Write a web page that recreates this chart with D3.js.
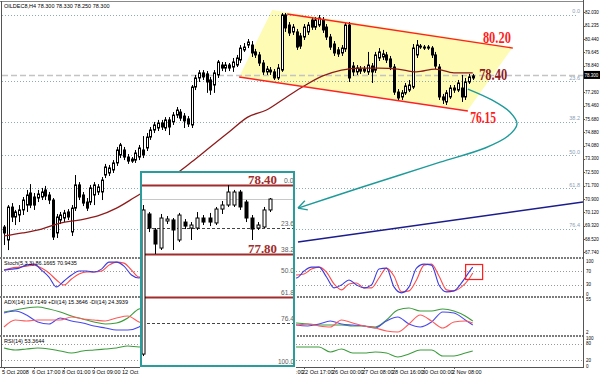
<!DOCTYPE html>
<html lang="en">
<head>
<meta charset="UTF-8">
<title>Oil H4 - channel, fibo and inset</title>
<script src="https://cdnjs.cloudflare.com/ajax/libs/d3/7.8.5/d3.min.js"></script>
<style>
  body { margin: 0; background: #fff; }
  svg { display: block; }
  .tiny { font-family: "Liberation Sans", Arial, sans-serif; font-size: 5.5px; fill: #000; }
  .axl { font-family: "Liberation Sans", Arial, sans-serif; font-size: 4.5px; fill: #000; }
  .big { font-family: "Liberation Serif", "Times New Roman", serif; font-weight: bold; }
</style>
</head>
<body>
<script>
// ---------- data ----------
var titleText = "OILDEC8,H4  78.300 78.330 78.250 78.300";

// H4 candles, one entry per bar
var open = [69.24,68.47,70.43,69.84,69.96,70.26,70.55,71.27,71.03,70.97,
  71.03,71.45,71.15,70.85,68.89,69.66,69.78,70.14,68.95,70.37,
  71.75,71.15,70.73,70.73,71.15,71.33,71.33,72.34,72.46,72.64,
  73.06,73.53,73.83,73.41,73.17,73.23,73.41,73.83,73.95,74.60,
  75.02,75.14,75.44,75.14,75.62,75.50,75.91,76.09,75.85,75.68,
  75.32,77.58,78.12,78.42,78.36,78.00,77.70,78.30,78.89,78.71,
  78.89,78.77,78.89,79.19,79.79,80.08,80.08,79.67,79.49,79.01,
  78.48,78.59,78.48,78.12,78.59,81.87,81.27,80.86,80.86,80.62,
  80.56,80.86,81.57,81.15,81.27,81.57,81.15,80.56,80.14,79.79,
  79.61,79.85,81.27,78.83,78.48,78.65,78.53,78.48,78.83,78.59,
  79.31,79.37,79.49,79.25,78.77,77.28,76.99,77.23,77.40,77.58,
  79.49,79.96,79.96,79.90,79.90,79.49,78.77,76.99,76.69,76.99,
  77.40,77.40,77.52,76.99,77.88,78.12];
var high = [69.36,70.55,70.67,70.26,70.55,71.03,71.45,71.80,71.27,71.45,
  71.57,71.69,71.33,70.97,70.02,70.14,70.26,70.31,70.55,72.34,
  71.92,71.33,70.97,71.75,71.92,71.80,72.22,73.00,72.94,73.23,
  74.01,74.25,74.01,73.59,73.41,73.83,74.13,74.66,74.84,75.20,
  75.50,75.62,75.62,75.79,75.79,76.09,76.39,76.27,76.03,75.85,
  77.70,78.30,78.59,78.59,78.53,78.18,78.59,79.19,79.07,79.07,
  79.01,79.31,79.49,80.08,80.20,80.44,80.32,79.85,79.67,79.19,
  78.83,78.77,78.65,78.95,81.99,81.99,81.45,81.33,81.04,80.80,
  81.33,81.45,81.75,81.75,81.87,81.75,81.33,80.74,80.32,79.96,
  80.08,81.39,81.45,79.07,78.89,78.83,78.83,79.67,79.01,79.67,
  79.90,79.79,79.67,79.43,78.95,77.46,77.40,77.82,78.00,80.14,
  80.38,80.14,80.08,80.08,80.02,79.67,78.95,77.17,77.40,77.70,
  77.70,78.00,78.30,78.12,78.36,78.36];
var low = [68.17,67.87,69.54,69.36,69.54,69.96,70.14,70.37,70.26,70.73,
  70.85,70.85,70.61,68.47,68.59,69.42,69.54,69.66,68.71,70.20,
  70.85,70.49,70.20,70.55,70.55,71.15,70.85,72.16,72.28,72.46,
  72.88,73.35,73.23,73.00,73.06,73.06,73.23,73.35,73.77,74.43,
  74.84,74.96,75.02,74.96,74.72,75.32,75.73,75.56,75.14,75.20,
  75.14,77.40,77.88,78.00,77.23,77.11,77.23,78.12,78.53,78.48,
  78.53,78.48,78.77,79.01,79.67,79.90,79.37,79.31,78.83,78.30,
  78.30,78.30,78.00,78.00,78.48,80.86,80.62,80.68,79.79,79.85,
  80.38,80.68,80.98,80.98,81.15,80.80,80.38,79.79,79.43,79.37,
  79.43,79.67,77.88,78.24,78.30,78.36,78.42,78.30,77.82,78.42,
  79.13,79.19,79.01,78.59,77.11,76.75,76.81,77.11,77.28,77.46,
  79.31,79.85,79.79,79.79,79.31,78.65,76.81,76.57,76.51,76.87,
  77.23,77.28,76.69,76.81,77.76,78.00];
var close = [68.89,70.43,69.84,70.14,70.26,70.85,71.15,70.55,70.55,71.21,
  71.33,71.09,70.85,68.65,69.84,69.96,70.08,69.84,70.37,71.75,
  71.03,70.67,70.37,71.57,71.75,71.63,72.04,72.82,72.76,73.06,
  73.83,74.13,73.41,73.17,73.29,73.65,73.95,73.53,74.60,75.02,
  75.32,75.44,75.20,75.62,75.20,75.91,76.21,75.73,75.56,75.38,
  77.58,78.12,78.42,78.18,77.88,77.40,78.42,79.07,78.71,78.89,
  78.71,79.07,79.31,79.90,79.96,80.26,79.61,79.49,79.01,78.48,
  78.65,78.48,78.12,78.71,81.87,81.10,80.80,81.15,79.96,80.02,
  81.15,81.27,81.15,81.57,81.69,80.98,80.56,79.96,79.61,79.55,
  79.90,81.27,78.12,78.48,78.71,78.53,78.65,78.89,78.48,79.49,
  79.67,79.55,79.19,78.77,77.28,76.93,77.23,77.64,77.70,79.90,
  80.08,80.02,79.90,79.96,79.49,78.83,76.99,76.81,77.23,77.52,
  77.52,77.82,76.99,77.88,78.18,78.24];

// moving average (dark red), sampled every 5 bars
var maBar = [0,5,10,15,20,25,30,35,40,45,50,55,60,65,70,75,80,85,90,95,100,105,110,115,120,125];
var maVal = [68.71,68.89,69.12,69.48,69.66,69.90,70.37,71.03,71.69,72.28,73.11,74.01,74.90,75.79,76.21,76.93,77.64,78.24,78.59,78.71,78.71,78.65,78.48,78.65,78.42,78.42];

// price axis labels
var priceTicks = [82.030,81.235,80.440,79.645,78.840,77.260,76.460,75.680,74.880,74.080,73.300,72.500,71.700,70.900,70.120,69.320,68.520,67.740];
var bidPrice = 78.300;

// x axis labels, one every 8 bars
var timeLabels = ["5 Oct 2008","6 Oct 17:00","8 Oct 01:00","9 Oct 09:00","12 Oct 17:00","14 Oct 01:00","15 Oct 09:00","16 Oct 17:00",
  "20 Oct 01:00","21 Oct 09:00","22 Oct 17:00","26 Oct 00:00","27 Oct 08:00","28 Oct 16:00","30 Oct 00:00","2 Nov 08:00"];

// fibonacci on the main chart
var fibLevels = [0, 23.6, 38.2, 50, 61.8, 76.4];
var fibNames = ["0.0","23.6","38.2","50.0","61.8","76.4"];
var fibHigh = 81.87, fibLow = 65.19;

// channel (bar index, price)
var chanUpper = [[75.5, 81.93], [135.7, 79.90]];
var chanLower = [[62.7, 78.18], [123.7, 76.15]];
var chanFill = [[62.7, 78.18], [71.5, 82.17], [135.7, 79.96], [123.7, 76.21]];
var blueTrend = [[78.4, 68.35], [154.4, 70.73]];
var arrowPath = [[123.7,77.46],[130.1,76.81],[134.9,76.09],[136.8,75.38],[134.4,74.66],[128.3,73.95],[116.3,73.11],[105.6,72.34],[92.3,71.39],[78.4,70.37]];

// stochastic, every 2 bars
var stochBar = d3.range(0, 125, 2).concat([125]);
var stochMain = [74,77,80,89,92,74,53,23,41,59,71,71,68,77,98,98,86,59,50,
  74,92,89,92,95,59,80,95,50,59,86,86,92,95,68,29,20,20,74,59,
  50,71,83,83,53,20,29,44,29,20,29,77,80,23,5,23,80,92,89,29,8,11,35,68,83];
var stochSignal = [74,80,83,86,89,80,65,44,29,47,62,68,68,71,89,98,95,74,53,
  62,80,89,89,92,77,71,86,68,53,74,86,89,92,80,50,26,20,44,65,
  59,62,77,83,68,32,14,32,35,20,20,50,80,56,8,11,44,89,92,56,14,11,23,47,65];

// ADX and RSI, every 3 bars
var oscBar = d3.range(0, 124, 3).concat([125]);
var adx = [35.2,38.4,41.6,43.2,40,35.2,28.8,24,19.2,16,17.6,25.6,40,
  43.2,48,51.2,49.6,51.2,46.4,43.2,40,38.4,35.2,28.8,22.4,19.2,
  17.6,16,14.4,14.4,14.4,12.8,12.8,11.2,22.4,38.4,41.6,36.8,36.8,40,36.8,28.8,20.8];
var plusDI = [33.6,36.8,30.4,19.2,16,25.6,20.8,17.6,12.8,9.6,6.4,6.4,11.2,
  25.6,30.4,33.6,28.8,35.2,25.6,32,28.8,33.6,25.6,19.2,17.6,28.8,
  14.4,12.8,16,20.8,16,14.4,12.8,9.6,20.8,27.2,16,11.2,19.2,35.2,33.6,22.4,14.4];
var minusDI = [11.2,22.4,20.8,22.4,22.4,22.4,27.2,24,22.4,20.8,25.6,28.8,19.2,
  14.4,12.8,11.2,16,12.8,19.2,16,12.8,11.2,19.2,25.6,22.4,14.4,
  14.4,16,12.8,11.2,22.4,17.6,12.8,9.6,4.8,3.2,16,30.4,20.8,9.6,19.2,20.8,17.6];
var rsi = [64.3,57.1,60.7,64.3,60.7,53.6,46.4,53.6,57.1,60.7,64.3,71.4,67.9,
  75,78.6,78.6,71.4,80,71.4,75,75,78.6,71.4,64.3,60.7,78.6,
  67.9,67.9,67.9,50,60.7,46.4,46.4,50,46.4,32.1,42.9,57.1,57.1,35.7,35.7,46.4,53.4];

// inset: zoomed candles with their own fibonacci
var inOpen  = [76.930,78.148,78.009,77.852,78.087,78.096,77.922,78.078,78.026,78.026,78.113,78.113,78.070,78.191,78.226,78.226,78.339,78.252,78.113,78.026,78.035,78.183];
var inHigh  = [78.226,78.165,78.026,78.148,78.130,78.113,78.157,78.104,78.078,78.165,78.139,78.157,78.209,78.261,78.400,78.357,78.357,78.270,78.139,78.078,78.209,78.287];
var inLow   = [76.913,77.991,77.800,77.835,78.061,77.835,77.904,78.017,77.922,78.009,78.052,78.043,78.052,78.148,78.209,78.209,78.183,78.078,77.922,78.009,78.026,78.165];
var inClose = [78.183,78.026,77.887,78.113,78.104,78.009,78.139,78.043,78.052,78.113,78.078,78.078,78.191,78.226,78.339,78.339,78.209,78.113,78.017,78.052,78.183,78.278];
var inFibHigh = 78.40, inFibLow = 76.83, inBid = 78.278;
var inFibLevels = [0, 23.6, 38.2, 50, 61.8, 76.4, 100];
var inFibNames = ["0.0","23.6","38.2","50.0","61.8","76.4","100.0"];

// ---------- drawing ----------
var W = 600, H = 376, axisX = 583;
var svg = d3.select("body").append("svg").attr("width", W).attr("height", H);
svg.append("rect").attr("width", W).attr("height", H).attr("fill", "#fff");

var defs = svg.append("defs");
function clip(id, x0, y0, w, h) {
  defs.append("clipPath").attr("id", id).append("rect").attr("x", x0).attr("y", y0).attr("width", w).attr("height", h);
}
clip("cMain", 2, 2, axisX - 2, 255);
clip("cSto", 2, 259, axisX - 2, 37);
clip("cAdx", 2, 298, axisX - 2, 37);
clip("cRsi", 2, 337, axisX - 2, 30);
clip("cInset", 142, 173, 152, 193);

var x = d3.scaleLinear().domain([0, 125]).range([4, 472.75]);
var y = d3.scaleLinear().domain([67.72, 82.03]).range([252.6, 12.3]);
var ySto = d3.scaleLinear().domain([0, 100]).range([294.5, 261.5]);
var yAdx = d3.scaleLinear().domain([0, 56]).range([334, 299]);
var yRsi = d3.scaleLinear().domain([0, 100]).range([366, 338]);

var main = svg.append("g").attr("clip-path", "url(#cMain)");

// channel fill
main.append("path").datum(chanFill)
  .attr("d", d3.line().x(function(d) { return x(d[0]); }).y(function(d) { return y(d[1]); }))
  .attr("fill", "#fdfbb4");

// fibonacci levels
var fibPrice = function(l) { return fibHigh - (fibHigh - fibLow) * l / 100; };
main.selectAll(".fib").data(fibLevels).join("line")
  .attr("x1", 2).attr("x2", 576)
  .attr("y1", function(d) { return Math.round(y(fibPrice(d))) + 0.5; })
  .attr("y2", function(d) { return Math.round(y(fibPrice(d))) + 0.5; })
  .attr("stroke", "#8eaab8").attr("stroke-dasharray", "1,2");
svg.selectAll(".fibt").data(fibLevels).join("text").attr("class", "tiny")
  .attr("x", 580).attr("y", function(d) { return y(fibPrice(d)) - 1.5; })
  .attr("text-anchor", "end").style("fill", "#8aa0b4")
  .text(function(d, i) { return fibNames[i]; });

// bid line
main.append("line").attr("x1", 2).attr("x2", axisX)
  .attr("y1", Math.round(y(bidPrice)) + 0.5).attr("y2", Math.round(y(bidPrice)) + 0.5)
  .attr("stroke", "#c4c4c4").attr("stroke-width", 1.5).attr("stroke-dasharray", "6,3");

// candles
function candles(g, n, xs, ys, o, h, l, c, half) {
  var idx = d3.range(n);
  g.selectAll(".wick").data(idx).join("line")
    .attr("x1", function(i) { return Math.round(xs(i)) + 0.5; })
    .attr("x2", function(i) { return Math.round(xs(i)) + 0.5; })
    .attr("y1", function(i) { return ys(h[i]); })
    .attr("y2", function(i) { return ys(l[i]); })
    .attr("stroke", "#000");
  g.selectAll(".body").data(idx).join("rect")
    .attr("x", function(i) { return Math.round(xs(i)) - half + 0.5; })
    .attr("width", half * 2)
    .attr("y", function(i) { return Math.min(ys(o[i]), ys(c[i])); })
    .attr("height", function(i) { return Math.max(0.6, Math.abs(ys(o[i]) - ys(c[i]))); })
    .attr("fill", function(i) { return c[i] >= o[i] ? "#fff" : "#000"; })
    .attr("stroke", "#000");
}
candles(main.append("g"), close.length, x, y, open, high, low, close, 1);

// moving average
main.append("path").datum(maBar.map(function(b, k) { return [b, maVal[k]]; }))
  .attr("d", d3.line().x(function(d) { return x(d[0]); }).y(function(d) { return y(d[1]); }).curve(d3.curveMonotoneX))
  .attr("fill", "none").attr("stroke", "#8e1b1b").attr("stroke-width", 1.3);

// channel lines
[chanUpper, chanLower].forEach(function(seg) {
  main.append("line")
    .attr("x1", x(seg[0][0])).attr("y1", y(seg[0][1]))
    .attr("x2", x(seg[1][0])).attr("y2", y(seg[1][1]))
    .attr("stroke", "#ff2020").attr("stroke-width", 1.4);
});

// blue trend line
main.append("line")
  .attr("x1", x(blueTrend[0][0])).attr("y1", y(blueTrend[0][1]))
  .attr("x2", x(blueTrend[1][0])).attr("y2", y(blueTrend[1][1]))
  .attr("stroke", "#1c1c8e").attr("stroke-width", 1.5);

// level labels
function bigLabel(txt, bx, by, color, size, len) {
  svg.append("text").attr("class", "big").attr("x", bx).attr("y", by)
    .attr("font-size", size).attr("fill", color)
    .attr("textLength", len).attr("lengthAdjust", "spacingAndGlyphs").text(txt);
}
bigLabel("80.20", x(127.7), y(80.20), "#ff1c1c", 16, 28);
bigLabel("78.40", x(126.7), y(78.40) + 7, "#8e1b1b", 16, 28);
bigLabel("76.15", x(124.3), y(76.15) + 12, "#ff1c1c", 16, 26);

// sub windows
function oscLine(g, bars, vals, ys, color) {
  g.append("path").datum(bars.map(function(b, k) { return [b, vals[k]]; }))
    .attr("d", d3.line().x(function(d) { return x(d[0]); }).y(function(d) { return ys(d[1]); }).curve(d3.curveMonotoneX))
    .attr("fill", "none").attr("stroke", color).attr("stroke-width", 1.1);
}
var sto = svg.append("g").attr("clip-path", "url(#cSto)");
[70, 30].forEach(function(v) {
  sto.append("line").attr("x1", 2).attr("x2", axisX)
    .attr("y1", Math.round(ySto(v)) + 0.5).attr("y2", Math.round(ySto(v)) + 0.5)
    .attr("stroke", "#999").attr("stroke-dasharray", "1,2");
});
oscLine(sto, stochBar, stochSignal, ySto, "#ff4a4a");
oscLine(sto, stochBar, stochMain, ySto, "#3a3ae0");
svg.append("rect").attr("x", x(123.1)).attr("y", 264.5).attr("width", 17).attr("height", 15)
  .attr("fill", "none").attr("stroke", "#ff1c1c").attr("stroke-width", 1.2);

var adxG = svg.append("g").attr("clip-path", "url(#cAdx)");
oscLine(adxG, oscBar, adx, yAdx, "#3c9c3c");
oscLine(adxG, oscBar, plusDI, yAdx, "#4848f0");
oscLine(adxG, oscBar, minusDI, yAdx, "#ff5a5a");

var rsiG = svg.append("g").attr("clip-path", "url(#cRsi)");
[80, 20].forEach(function(v) {
  rsiG.append("line").attr("x1", 2).attr("x2", axisX)
    .attr("y1", Math.round(yRsi(v)) + 0.5).attr("y2", Math.round(yRsi(v)) + 0.5)
    .attr("stroke", "#999").attr("stroke-dasharray", "1,2");
});
oscLine(rsiG, oscBar, rsi, yRsi, "#3c9c3c");

// panel texts
svg.append("text").attr("class", "tiny").attr("x", 4).attr("y", 8).text(titleText);
svg.append("text").attr("class", "tiny").attr("x", 4).attr("y", 265).text("Stoch(5,3,3) 86.1665 70.9435");
svg.append("text").attr("class", "tiny").attr("x", 4).attr("y", 304).text("ADX(14) 19.7149 +DI(14) 15.3646 -DI(14) 24.3939");
svg.append("text").attr("class", "tiny").attr("x", 4).attr("y", 343).text("RSI(14) 53.3644");

// frames and separators
svg.append("line").attr("x1", 0).attr("x2", axisX).attr("y1", 1.5).attr("y2", 1.5).attr("stroke", "#8a8a8a");
svg.append("line").attr("x1", 1.5).attr("x2", 1.5).attr("y1", 1).attr("y2", 367).attr("stroke", "#555");
[258, 297, 336].forEach(function(sy) {
  svg.append("line").attr("x1", 0).attr("x2", axisX).attr("y1", sy).attr("y2", sy)
    .attr("stroke", "#7c7c7c").attr("stroke-width", 2).attr("stroke-dasharray", "2,1");
});
svg.append("line").attr("x1", 0).attr("x2", axisX).attr("y1", 367.5).attr("y2", 367.5).attr("stroke", "#555");
svg.append("line").attr("x1", axisX + 0.5).attr("x2", axisX + 0.5).attr("y1", 0).attr("y2", 368).attr("stroke", "#555");

// price axis
svg.selectAll(".pt").data(priceTicks).join("text").attr("class", "axl")
  .attr("x", axisX + 2).attr("y", function(d) { return y(d) + 1.6; })
  .text(function(d) { return d.toFixed(3); });
svg.selectAll(".ptk").data(priceTicks).join("line")
  .attr("x1", axisX).attr("x2", axisX + 2)
  .attr("y1", function(d) { return Math.round(y(d)) + 0.5; })
  .attr("y2", function(d) { return Math.round(y(d)) + 0.5; })
  .attr("stroke", "#555");
svg.append("rect").attr("x", axisX + 1).attr("y", y(bidPrice) - 4).attr("width", 16).attr("height", 8).attr("fill", "#000");
svg.append("text").attr("class", "axl").attr("x", axisX + 1.5).attr("y", y(bidPrice) + 1.6)
  .style("fill", "#fff").text(bidPrice.toFixed(3));

// oscillator axis labels
function sideLabels(vals, ys, names) {
  vals.forEach(function(v, k) {
    svg.append("text").attr("class", "axl").attr("x", axisX + 3).attr("y", ys(v) + 1.6).text(names[k]);
  });
}
sideLabels([100, 70, 30, 0], ySto, ["100", "70", "30", "0"]);
sideLabels([55, 2], yAdx, ["55", "2"]);
sideLabels([100, 80, 20, 0], yRsi, ["100", "80", "20", "0"]);

// time axis
svg.selectAll(".tl").data(timeLabels).join("text").attr("class", "tiny")
  .attr("x", function(d, k) { return x(k * 8) - 2; }).attr("y", 374)
  .text(function(d) { return d; });
svg.selectAll(".tk").data(timeLabels).join("line")
  .attr("x1", function(d, k) { return Math.round(x(k * 8)) + 0.5; })
  .attr("x2", function(d, k) { return Math.round(x(k * 8)) + 0.5; })
  .attr("y1", 367).attr("y2", 369).attr("stroke", "#555");

// ---------- inset ----------
var ix = d3.scaleLinear().domain([0, 21]).range([143, 270]);
var iy = d3.scaleLinear().domain([inFibLow, inFibHigh]).range([365.6, 185]);
var inset = svg.append("g");
inset.append("rect").attr("x", 140).attr("y", 171).attr("width", 156).attr("height", 205).attr("fill", "#fff");
var ic = inset.append("g").attr("clip-path", "url(#cInset)");
ic.append("line").attr("x1", 142).attr("x2", 294).attr("y1", Math.round(iy(inBid)) + 0.5).attr("y2", Math.round(iy(inBid)) + 0.5)
  .attr("stroke", "#c8c8c8");
var inFibPrice = function(l) { return inFibHigh - (inFibHigh - inFibLow) * l / 100; };
inFibLevels.forEach(function(l) {
  var ly = Math.round(iy(inFibPrice(l))) + 0.5;
  if (l === 0 || l === 38.2 || l === 61.8) {
    ic.append("line").attr("x1", 142).attr("x2", 294).attr("y1", ly).attr("y2", ly)
      .attr("stroke", "#a02c2c").attr("stroke-width", 2);
  } else if (l === 23.6 || l === 76.4) {
    ic.append("line").attr("x1", 142).attr("x2", 294).attr("y1", ly).attr("y2", ly)
      .attr("stroke", "#444").attr("stroke-dasharray", "3,2");
  }
});
candles(ic.append("g"), inClose.length, ix, iy, inOpen, inHigh, inLow, inClose, 1.5);
ic.selectAll(".ifl").data(inFibLevels).join("text")
  .attr("x", function(d) { return d === 100 ? 278 : (d === 0 ? 284 : 281); })
  .attr("y", function(d) { return iy(inFibPrice(d)) - 2; })
  .attr("font-family", "Liberation Sans, Arial, sans-serif").attr("font-size", 7.5).attr("fill", "#606060")
  .attr("textLength", function(d, i) { return inFibNames[i].length * 3.2; })
  .attr("lengthAdjust", "spacingAndGlyphs")
  .text(function(d, i) { return inFibNames[i]; });
function insetLabel(txt, price) {
  ic.append("text").attr("class", "big").attr("x", 277).attr("y", iy(price) - 1.5)
    .attr("text-anchor", "end").attr("font-size", 13).attr("fill", "#a02c2c")
    .attr("textLength", 29).attr("lengthAdjust", "spacingAndGlyphs").text(txt);
}
insetLabel("78.40", 78.40);
insetLabel("77.80", 77.80);
inset.append("rect").attr("x", 141).attr("y", 172).attr("width", 153).attr("height", 194)
  .attr("fill", "none").attr("stroke", "#2a9c9c").attr("stroke-width", 2);

// teal curved arrow from the last bars to the inset
var arrowPts = arrowPath.map(function(d) { return [x(d[0]), y(d[1])]; });
svg.append("path").datum(arrowPts)
  .attr("d", d3.line().curve(d3.curveCatmullRom))
  .attr("fill", "none").attr("stroke", "#1f9a9a").attr("stroke-width", 1.4);
var tip = arrowPts[arrowPts.length - 1], prev = arrowPts[arrowPts.length - 2];
var ang = Math.atan2(tip[1] - prev[1], tip[0] - prev[0]);
[-0.5, 0.5].forEach(function(da) {
  svg.append("line").attr("x1", tip[0]).attr("y1", tip[1])
    .attr("x2", tip[0] - 10 * Math.cos(ang + da)).attr("y2", tip[1] - 10 * Math.sin(ang + da))
    .attr("stroke", "#1f9a9a").attr("stroke-width", 1.4);
});
</script>
</body>
</html>
